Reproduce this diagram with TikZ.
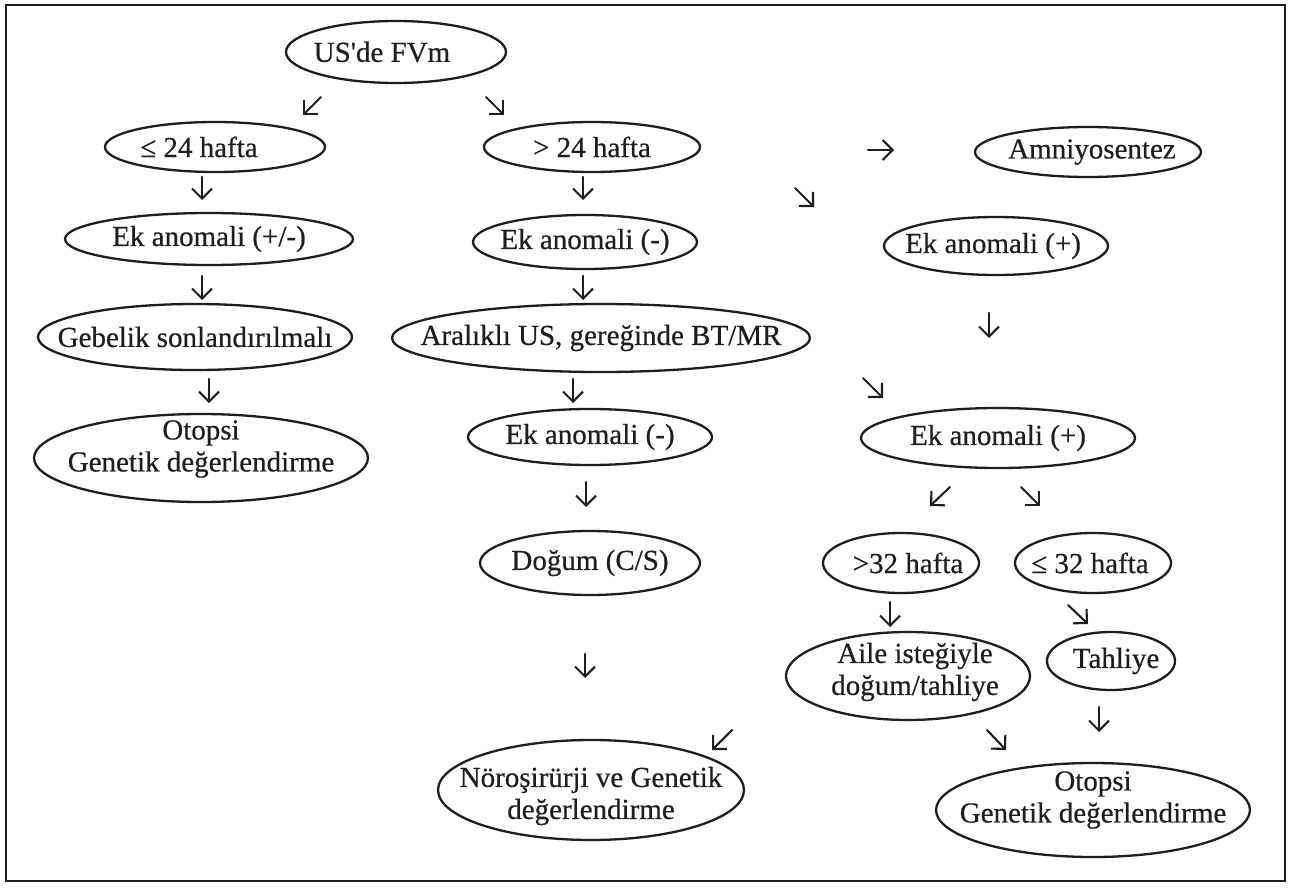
\documentclass[tikz,border=0pt]{standalone}
\usepackage{fontspec}
\setmainfont{Liberation Serif}
\newfontfamily\diafont{Liberation Serif}[FakeBold=0.5]
\usetikzlibrary{shapes.geometric,arrows.meta}
\definecolor{ink}{HTML}{1E1E1E}
\newcommand{\apos}{{\XeTeXglyph\XeTeXglyphindex "quotesingle"\relax}}
\tikzset{
  el/.style={ellipse, draw=ink, line width=2.3pt, inner sep=0pt},
  lbl/.style={text=ink, inner sep=0pt, align=center,
    font=\diafont\fontsize{29}{32}\selectfont},
  arr/.style={draw=ink, line width=2.1pt, line cap=round,
    -{Straight Barb[length=10pt,width=20pt,line width=2.1pt]}}
}
\begin{document}
\begin{tikzpicture}[x=1pt,y=-1pt]
\useasboundingbox (0,0) rectangle (1293,888);
\fill[white] (0,0) rectangle (1293,888);
\draw[ink, line width=2pt] (6,5) rectangle (1285,881);

% ellipses
\node[el, minimum width=220pt, minimum height=62pt] (fvm) at (396,52) {};
\node[el, minimum width=220pt, minimum height=50pt] (le24) at (215,147) {};
\node[el, minimum width=216pt, minimum height=50pt] (gt24) at (592,147) {};
\node[el, minimum width=226pt, minimum height=50pt] (amn) at (1088,152) {};
\node[el, minimum width=288pt, minimum height=52pt] (eka) at (209,239) {};
\node[el, minimum width=224pt, minimum height=54pt] (ekb) at (585,242) {};
\node[el, minimum width=224pt, minimum height=58pt] (ekc) at (996,246) {};
\node[el, minimum width=314pt, minimum height=66pt] (geb) at (195,337) {};
\node[el, minimum width=418pt, minimum height=68pt] (ara) at (601,338) {};
\node[el, minimum width=334pt, minimum height=88pt] (oto1) at (201,458) {};
\node[el, minimum width=244pt, minimum height=56pt] (ekd) at (590,437) {};
\node[el, minimum width=274pt, minimum height=60pt] (eke) at (998,438) {};
\node[el, minimum width=220pt, minimum height=64pt] (dog) at (590,563) {};
\node[el, minimum width=156pt, minimum height=60pt] (gt32) at (901,563) {};
\node[el, minimum width=156pt, minimum height=60pt] (le32) at (1093,563) {};
\node[el, minimum width=244pt, minimum height=88pt] (aile) at (908,676) {};
\node[el, minimum width=128pt, minimum height=58pt] (tah) at (1111,661) {};
\node[el, minimum width=306pt, minimum height=100pt] (noro) at (591,790) {};
\node[el, minimum width=314pt, minimum height=94pt] (oto2) at (1093,810) {};

% texts
\node[lbl, xshift=-14pt] (fvmT) at (fvm.center) {US\apos de FVm};
\node[lbl, xshift=-16pt] (le24T) at (le24.center) {≤ 24 hafta};
\node[lbl] (gt24T) at (gt24.center) {> 24 hafta};
\node[lbl, xshift=4pt] (amnT) at (amn.center) {Amniyosentez};
\node[lbl] (ekaT) at (eka.center) {Ek anomali (+/-)};
\node[lbl] (ekbT) at (ekb.center) {Ek anomali (-)};
\node[lbl, xshift=-3pt] (ekcT) at (ekc.center) {Ek anomali (+)};
\node[lbl] (gebT) at (geb.center) {Gebelik sonlandırılmalı};
\node[lbl] (araT) at (ara.center) {Aralıklı US, gereğinde BT/MR};
\node[lbl, yshift=9pt] (oto1T) at (oto1.center) {Otopsi\\Genetik değerlendirme};
\node[lbl] (ekdT) at (ekd.center) {Ek anomali (-)};
\node[lbl] (ekeT) at (eke.center) {Ek anomali (+)};
\node[lbl] (dogT) at (dog.center) {Doğum (C/S)};
\node[lbl, xshift=7pt] (gt32T) at (gt32.center) {>32 hafta};
\node[lbl, xshift=-3pt] (le32T) at (le32.center) {≤ 32 hafta};
\node[lbl, xshift=7pt, yshift=4pt] (aileT) at (aile.center) {Aile isteğiyle\\doğum/tahliye};
\node[lbl, xshift=5pt] (tahT) at (tah.center) {Tahliye};
\node[lbl, yshift=-6pt] (noroT) at (noro.center) {Nöroşirürji ve Genetik\\değerlendirme};
\node[lbl, yshift=10pt] (oto2T) at (oto2.center) {Otopsi\\Genetik değerlendirme};

% free-standing arrows
\coordinate (a1s) at (321,97);   \coordinate (a1e) at (303,115);
\coordinate (a2s) at (486,97);   \coordinate (a2e) at (504,115);
\coordinate (a3s) at (202,177);  \coordinate (a3e) at (202,200);
\coordinate (a4s) at (583,177);  \coordinate (a4e) at (583,200);
\coordinate (a5s) at (868,150);  \coordinate (a5e) at (894,150);
\coordinate (a6s) at (795,188);  \coordinate (a6e) at (814,207);
\coordinate (a7s) at (202,276);  \coordinate (a7e) at (202,300);
\coordinate (a8s) at (583,276);  \coordinate (a8e) at (583,300);
\coordinate (a9s) at (989,313);  \coordinate (a9e) at (989,338);
\coordinate (a10s) at (209,379); \coordinate (a10e) at (209,403);
\coordinate (a11s) at (573,379); \coordinate (a11e) at (573,403);
\coordinate (a12s) at (863,378); \coordinate (a12e) at (883,398);
\coordinate (a13s) at (586,482); \coordinate (a13e) at (586,507);
\coordinate (a14s) at (950,487); \coordinate (a14e) at (930,506);
\coordinate (a15s) at (1021,487);\coordinate (a15e) at (1040,506);
\coordinate (a16s) at (890,602); \coordinate (a16e) at (890,627);
\coordinate (a17s) at (1068,605);\coordinate (a17e) at (1088,624);
\coordinate (a18s) at (585,654); \coordinate (a18e) at (585,678);
\coordinate (a19s) at (732,730); \coordinate (a19e) at (712,750);
\coordinate (a20s) at (987,730); \coordinate (a20e) at (1006,750);
\coordinate (a21s) at (1099,707);\coordinate (a21e) at (1099,732);

\foreach \i in {1,...,21} \draw[arr] (a\i s) -- (a\i e);
\end{tikzpicture}
\end{document}
